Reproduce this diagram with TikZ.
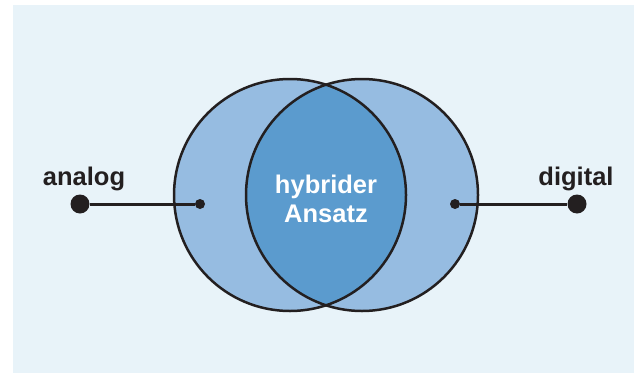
\documentclass[tikz,border=0pt]{standalone}
\usepackage{fontspec}
\setmainfont{Liberation Sans}
\definecolor{bgblue}{HTML}{E8F3F9}
\definecolor{ringblue}{HTML}{96BCE1}
\definecolor{lensblue}{HTML}{5B9BCE}
\definecolor{inkline}{HTML}{231F20}
\tikzset{
	bigdot/.style={circle, fill=inkline, inner sep=0pt, minimum size=19pt},
	smalldot/.style={circle, fill=inkline, inner sep=0pt, minimum size=10pt},
	sidelabel/.style={font=\bfseries\fontsize{25.5}{30}\selectfont, text=inkline, anchor=base},
	lenslabel/.style={font=\bfseries\fontsize{25.5}{29}\selectfont, text=white, align=center},
}

\begin{document}
\begin{tikzpicture}[x=1pt, y=1pt]
			%%%%% START %%%%%
			\useasboundingbox (0, 0) rectangle (636, 373);
			\fill[bgblue] (13, 0) rectangle (634, 368);
			
			\fill[ringblue] (290, 178) circle (116);
			\fill[ringblue] (362, 178) circle (116);
			\begin{scope}
				\clip (290, 178) circle (116);
				\fill[lensblue] (362, 178) circle (116);
			\end{scope}
			\draw[line width=2.5pt, color=inkline] (290, 178) circle (116);
			\draw[line width=2.5pt, color=inkline] (362, 178) circle (116);
			
			\node[lenslabel] (ansatz) at (326, 174) {hybrider\\Ansatz};
			
			\node[bigdot] (analogdot) at (80, 169) {};
			\node[smalldot] (leftin) at (200, 169) {};
			\node[smalldot] (rightin) at (455, 169) {};
			\node[bigdot] (digitaldot) at (577, 169) {};
			\draw[line width=3pt, color=inkline] (analogdot) -- (leftin);
			\draw[line width=3pt, color=inkline] (rightin) -- (digitaldot);
			
			\node[sidelabel] (analog) at (84, 188) {analog};
			\node[sidelabel] (digital) at (576, 188) {digital};
			%%%%% END %%%%%
\end{tikzpicture}
\end{document}
